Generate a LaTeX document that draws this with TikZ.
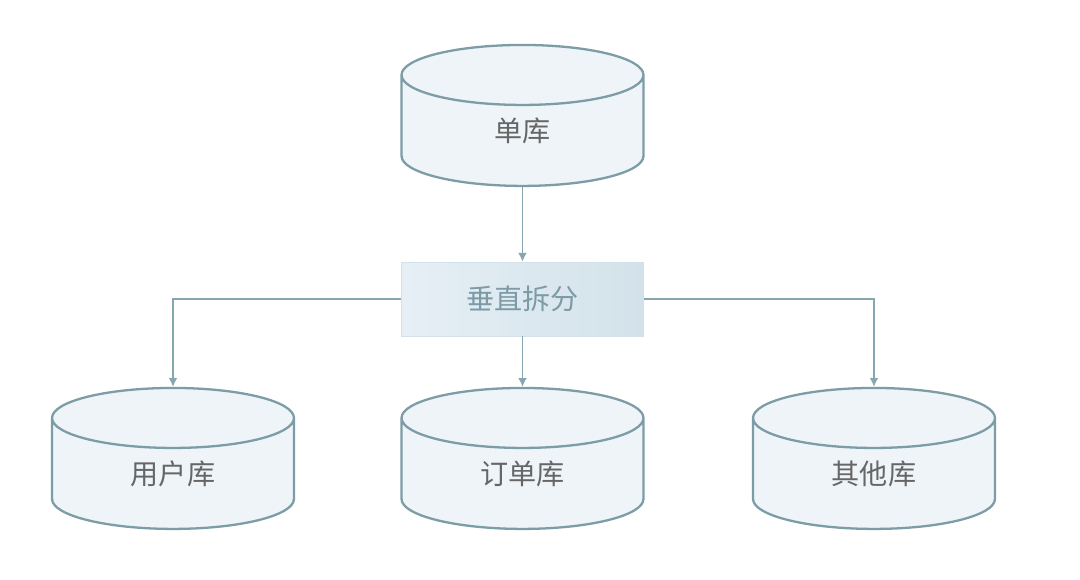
\documentclass[tikz,border=0pt]{standalone}
\usepackage{fontspec}
\newfontfamily\cjk{Noto Sans CJK SC}
\usetikzlibrary{positioning,arrows.meta,shapes.geometric}
\tikzset{>={Latex[length=5pt,width=5pt]}}
\definecolor{dbline}{HTML}{7C9CA6}
\definecolor{dbfill}{HTML}{EEF4F8}
\definecolor{dbtext}{HTML}{666666}
\definecolor{splitL}{HTML}{E6EFF5}
\definecolor{splitR}{HTML}{D3E2EA}
\definecolor{splittext}{HTML}{7D9BA6}
\definecolor{conn}{HTML}{86A7B0}

\begin{document}
\begin{tikzpicture}[x=0.02cm,y=-0.02cm,
    every node/.style={font=\cjk\fontsize{16}{18}\selectfont},
    db/.style={cylinder, shape border rotate=90, aspect=0.6,
      draw=dbline, fill=dbfill, line width=1.3pt, text=dbtext,
      text width=2cm, align=center,
      minimum width=4.84cm, minimum height=2.82cm, inner sep=0pt},
    splitbox/.style={rectangle, draw=splitR, left color=splitL, right color=splitR,
      text=splittext, minimum width=4.84cm, minimum height=1.48cm},
    link/.style={draw=conn, line width=0.9pt, ->}]
      \fill[white] (0,0) rectangle (1080,579);
      \useasboundingbox (0,0) rectangle (1080,579);

      \node[db]       (SingleDB) at (522.5,131) {单库};
      \node[splitbox] (Split)    at (522.5,299) {垂直拆分};

      \node[db]       (UserDB)   at (173,474)   {用户库};
      \node[db]       (OrderDB)  at (522.5,474) {订单库};
      \node[db]       (OtherDB)  at (874,474)   {其他库};

      \draw[link] (SingleDB.south) -- (Split.north);
      \draw[link] (Split.west)  -| (UserDB.north);
      \draw[link] (Split.south) -- (OrderDB.north);
      \draw[link] (Split.east)  -| (OtherDB.north);
\end{tikzpicture}
\end{document}
